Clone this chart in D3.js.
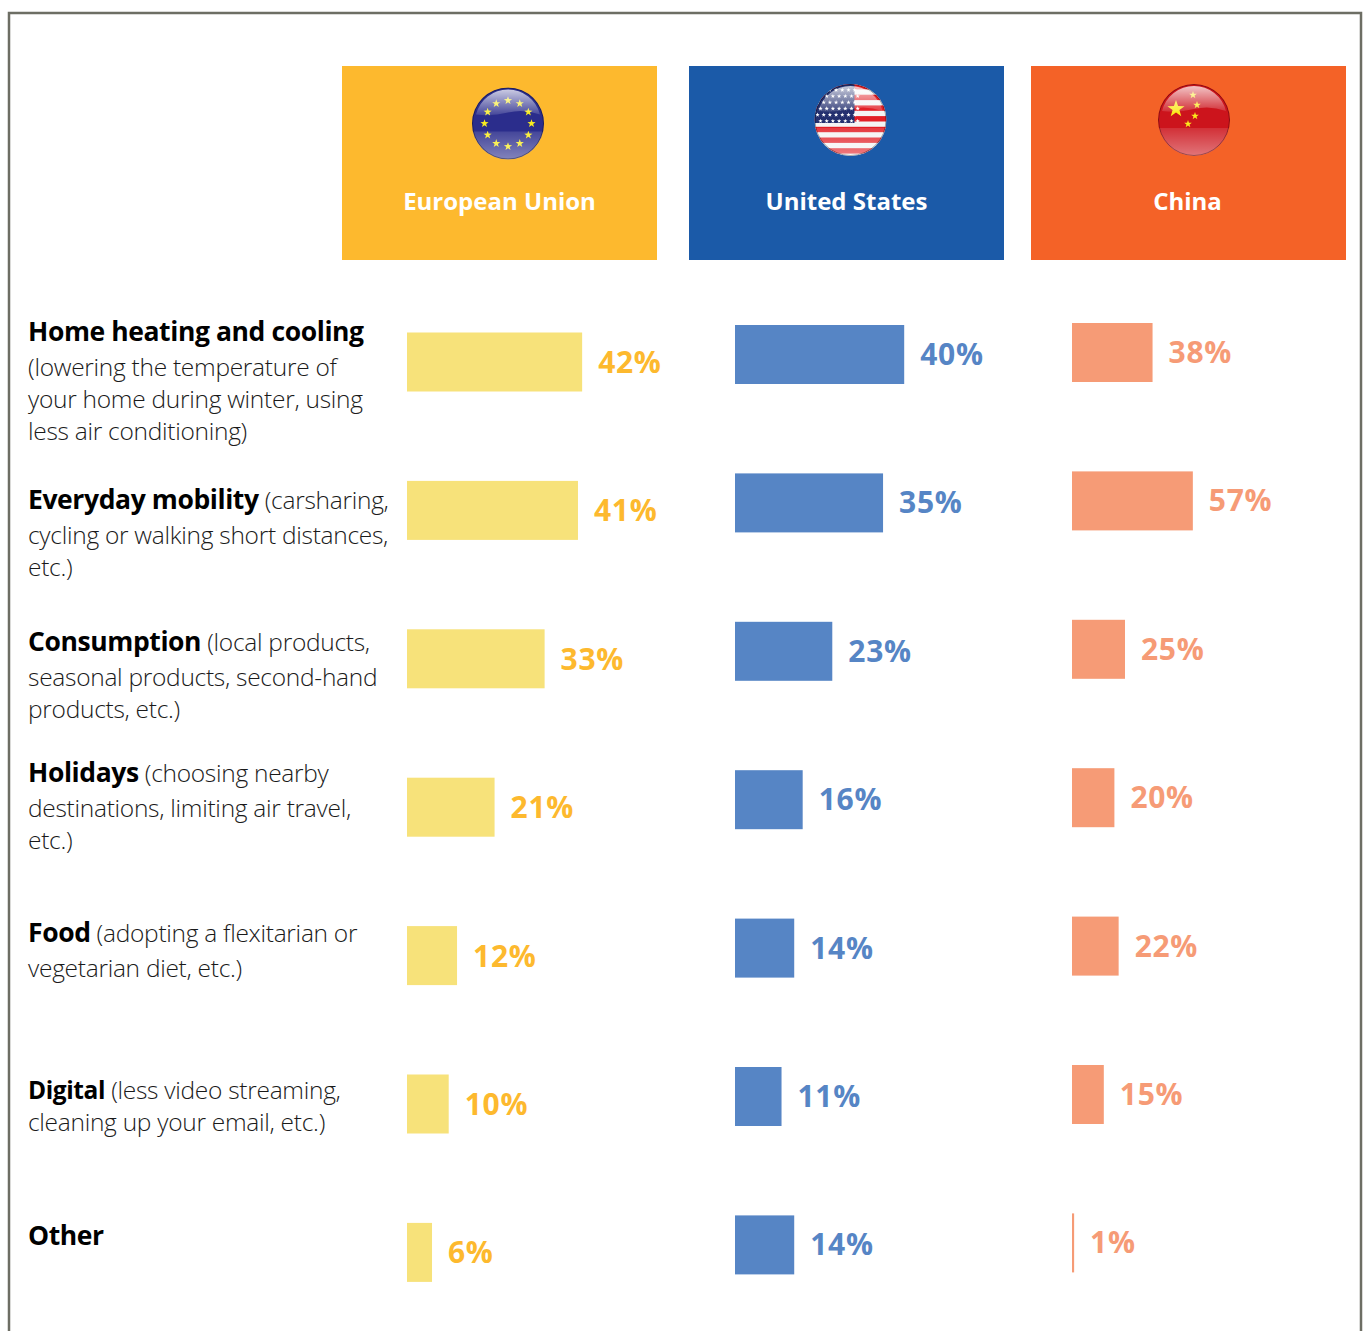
<!DOCTYPE html>
<html>
<head>
<meta charset="utf-8">
<script src="https://cdn.jsdelivr.net/npm/d3@7"></script>
<style>
  html, body { margin: 0; padding: 0; background: #fff; }
  svg { display: block; font-family: "Open Sans", sans-serif; }
</style>
</head>
<body>
<script>
// values
const categories = ["Home", "Mobility", "Consumption", "Holidays", "Food", "Digital", "Other"];
const euValues = [42, 41, 33, 21, 12, 10, 6];
const usValues = [40, 35, 23, 16, 14, 11, 14];
const cnValues = [38, 57, 25, 20, 22, 15, 1];
const regionNames = ["European Union", "United States", "China"];

// each line is [bold part, regular part]
const labelLines = [
  [["Home heating and cooling", ""], ["", "(lowering the temperature of"], ["", "your home during winter, using"], ["", "less air conditioning)"]],
  [["Everyday mobility", " (carsharing,"], ["", "cycling or walking short distances,"], ["", "etc.)"]],
  [["Consumption", " (local products,"], ["", "seasonal products, second-hand"], ["", "products, etc.)"]],
  [["Holidays", " (choosing nearby"], ["", "destinations, limiting air travel,"], ["", "etc.)"]],
  [["Food", " (adopting a flexitarian or"], ["", "vegetarian diet, etc.)"]],
  [["Digital", " (less video streaming,"], ["", "cleaning up your email, etc.)"]],
  [["Other", ""]]
];

// layout
const width = 1367, height = 1331;
const labelBaselines = [
  [341, 376, 408, 440],
  [509, 544, 576],
  [651, 686, 718],
  [782, 817, 849],
  [942, 977],
  [1099, 1131],
  [1245]
];
const columns = [
  { values: euValues, headX: 342, headW: 315, head: "#fdb92e", bar: "#f7e27a", text: "#fdb92e",
    x0: 407, pxPer100: 417, y0: 332.5, labelDy: 40.5, flagX: 508, flagY: 123.5, titleX: 499.5 },
  { values: usValues, headX: 689, headW: 315, head: "#1b5aa8", bar: "#5685c5", text: "#5685c5",
    x0: 735, pxPer100: 423, y0: 325, labelDy: 40, flagX: 850.5, flagY: 120, titleX: 846.5 },
  { values: cnValues, headX: 1031, headW: 315, head: "#f46227", bar: "#f69b76", text: "#f69b76",
    x0: 1072, pxPer100: 212, y0: 323, labelDy: 40, flagX: 1194, flagY: 120, titleX: 1187.5 }
];
const barH = 59, rowStep = 148.4;

const svg = d3.select("body").append("svg")
  .attr("width", width)
  .attr("height", height)
  .attr("viewBox", `0 0 ${width} ${height}`);

const defs = svg.append("defs");

// glass effect shared by the three flags
const shine = defs.append("linearGradient").attr("id", "shine")
  .attr("x1", 0).attr("y1", 0).attr("x2", 0).attr("y2", 1);
shine.append("stop").attr("offset", "0%").attr("stop-color", "#fff").attr("stop-opacity", 0.75);
shine.append("stop").attr("offset", "100%").attr("stop-color", "#fff").attr("stop-opacity", 0.12);
const lower = defs.append("linearGradient").attr("id", "lower")
  .attr("x1", 0).attr("y1", 0).attr("x2", 0).attr("y2", 1);
lower.append("stop").attr("offset", "0%").attr("stop-color", "#fff").attr("stop-opacity", 0.12);
lower.append("stop").attr("offset", "100%").attr("stop-color", "#fff").attr("stop-opacity", 0.5);

const r = 36;
defs.append("clipPath").attr("id", "disc").append("circle").attr("r", r);

function star(g, cx, cy, size, fill) {
  const pts = d3.range(10).map(i => {
    const a = -Math.PI / 2 + i * Math.PI / 5;
    const q = i % 2 ? size * 0.4 : size;
    return [cx + q * Math.cos(a), cy + q * Math.sin(a)].join(",");
  });
  g.append("polygon").attr("points", pts.join(" ")).attr("fill", fill);
}

function gloss(g) {
  g.append("path")
    .attr("d", `M-36,8 A36,36 0 0 0 36,8 Z`)
    .attr("fill", "url(#lower)");
  g.append("path")
    .attr("d", `M-32,-9 A33,33 0 0 1 32,-9 Q16,-15 0,-11 Q-16,-7 -32,-9 Z`)
    .attr("fill", "url(#shine)");
  g.append("circle").attr("r", r - 0.5).attr("fill", "none")
    .attr("stroke", "#000").attr("stroke-opacity", 0.35);
}

function euFlag(g) {
  const f = g.append("g").attr("clip-path", "url(#disc)");
  f.append("rect").attr("x", -r).attr("y", -r).attr("width", 2 * r).attr("height", 2 * r).attr("fill", "#2b2d8c");
  d3.range(12).forEach(i => {
    const a = i * Math.PI / 6;
    star(f, 23.5 * Math.sin(a), -23 * Math.cos(a), 4.3, "#f8ec20");
  });
  gloss(f);
}

function usFlag(g) {
  const f = g.append("g").attr("clip-path", "url(#disc)");
  f.append("rect").attr("x", -r).attr("y", -r).attr("width", 2 * r).attr("height", 2 * r).attr("fill", "#f4f4f4");
  d3.range(7).forEach(i => {
    f.append("rect").attr("x", -r).attr("y", -36 + i * 10.7).attr("width", 2 * r).attr("height", 5.4).attr("fill", "#e21f26");
  });
  f.append("rect").attr("x", -r).attr("y", -r).attr("width", 40).attr("height", 39).attr("fill", "#24306f");
  d3.range(6).forEach(j => d3.range(7).forEach(i => {
    star(f, -33 + i * 6.2 + (j % 2 ? 3 : 0), -30 + j * 6.2, 2.3, "#fff");
  }));
  gloss(f);
}

function cnFlag(g) {
  const f = g.append("g").attr("clip-path", "url(#disc)");
  f.append("rect").attr("x", -r).attr("y", -r).attr("width", 2 * r).attr("height", 2 * r).attr("fill", "#cc141c");
  star(f, -18, -11, 9, "#fbe91c");
  star(f, -1, -25, 4, "#fbe91c");
  star(f, 3, -15, 4, "#fbe91c");
  star(f, 1, -4, 4, "#fbe91c");
  star(f, -6, 4, 4, "#fbe91c");
  gloss(f);
}

// outer frame, it runs off the bottom of the page
svg.append("path")
  .attr("d", `M9,${height} V13 H1361 V${height}`)
  .attr("fill", "none")
  .attr("stroke", "#6d6e64")
  .attr("stroke-width", 2.5);

// header boxes
const heads = svg.append("g").selectAll("g")
  .data(columns)
  .join("g");

heads.append("rect")
  .attr("x", d => d.headX)
  .attr("y", 66)
  .attr("width", d => d.headW)
  .attr("height", 194)
  .attr("fill", d => d.head);

heads.append("text")
  .attr("x", d => d.titleX)
  .attr("y", 210)
  .attr("text-anchor", "middle")
  .attr("fill", "#fff")
  .attr("font-size", 24)
  .attr("font-weight", 700)
  .text((d, i) => regionNames[i]);

[euFlag, usFlag, cnFlag].forEach((draw, i) => {
  const g = svg.append("g").attr("transform", `translate(${columns[i].flagX},${columns[i].flagY})`);
  draw(g);
});

// bars and percent labels, one scale per column like the original
columns.forEach(col => {
  const x = d3.scaleLinear().domain([0, 100]).range([col.x0, col.x0 + col.pxPer100]);
  const y = d3.scalePoint().domain(categories)
    .range([col.y0, col.y0 + rowStep * (categories.length - 1)]);
  const rows = categories.map((c, i) => ({ c, v: col.values[i] }));

  svg.append("g").selectAll("rect")
    .data(rows)
    .join("rect")
    .attr("x", col.x0)
    .attr("y", d => y(d.c))
    .attr("width", d => x(d.v) - col.x0)
    .attr("height", barH)
    .attr("fill", col.bar);

  svg.append("g").selectAll("text")
    .data(rows)
    .join("text")
    .attr("x", d => x(d.v) + 16)
    .attr("y", d => y(d.c) + col.labelDy)
    .attr("fill", col.text)
    .attr("font-size", 30)
    .attr("font-weight", 700)
    .attr("letter-spacing", 0.7)
    .text(d => d.v + "%");
});

// left hand labels
labelLines.forEach((lines, i) => {
  const isDigital = categories[i] === "Digital";
  lines.forEach((line, j) => {
    const t = svg.append("text")
      .attr("x", 28)
      .attr("y", labelBaselines[i][j])
      .attr("fill", "#1a1a1a");
    if (line[0]) {
      t.append("tspan")
        .attr("font-size", isDigital ? 24.5 : 26.5)
        .attr("font-weight", 700)
        .attr("letter-spacing", -0.4)
        .attr("fill", "#000")
        .text(line[0]);
    }
    if (line[1]) {
      t.append("tspan")
        .attr("font-size", 24.5)
        .attr("font-weight", 300)
        .attr("letter-spacing", -0.28)
        .attr("xml:space", "preserve")
        .text(line[1]);
    }
  });
});
</script>
</body>
</html>
